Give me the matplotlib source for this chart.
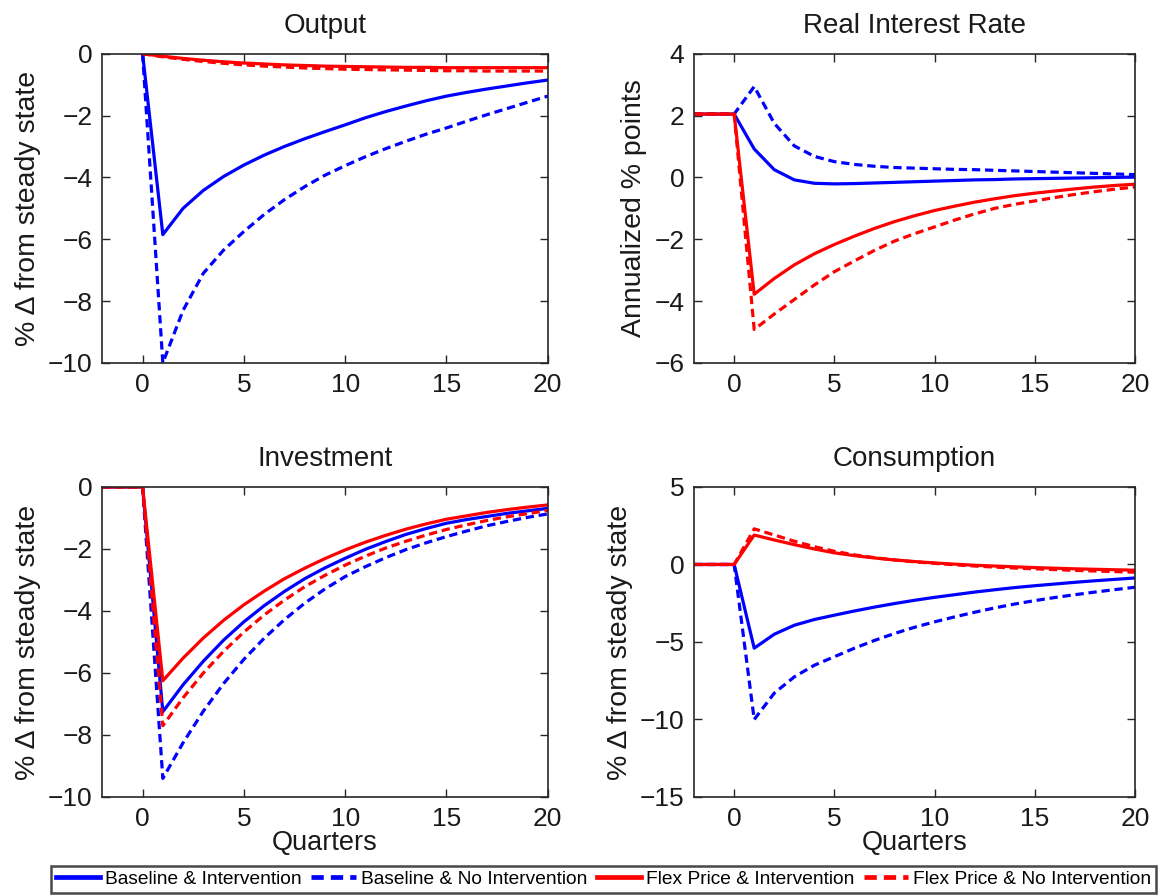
import matplotlib
matplotlib.use("Agg")
import matplotlib.pyplot as plt
from matplotlib.lines import Line2D

plt.rcParams["font.family"] = ["Liberation Sans", "DejaVu Sans"]

# Quarters since the shock
quarters = list(range(-2, 21))
quarters_out = list(range(0, 21))

# Output (% deviation from steady state), from quarter 0
out_base_int = [0, -5.85, -5.0, -4.42, -3.97, -3.6, -3.28, -3.0, -2.75, -2.52, -2.3,
                -2.07, -1.87, -1.69, -1.52, -1.37, -1.25, -1.14, -1.04, -0.94, -0.85]
out_base_noint = [0, -10.0, -8.3, -7.1, -6.35, -5.75, -5.2, -4.72, -4.3, -3.93, -3.62,
                  -3.33, -3.07, -2.83, -2.6, -2.4, -2.18, -1.97, -1.77, -1.57, -1.37]
out_flex_int = [0, -0.08, -0.15, -0.21, -0.26, -0.3, -0.33, -0.36, -0.38, -0.4, -0.41,
                -0.42, -0.43, -0.44, -0.44, -0.45, -0.45, -0.45, -0.45, -0.45, -0.45]
out_flex_noint = [0, -0.1, -0.18, -0.25, -0.31, -0.36, -0.4, -0.43, -0.46, -0.48, -0.5,
                  -0.51, -0.52, -0.53, -0.54, -0.55, -0.55, -0.56, -0.56, -0.56, -0.56]

# Real interest rate (annualized % points)
rir_base_int = [2.05, 2.05, 2.05, 0.92, 0.25, -0.08, -0.19, -0.21, -0.2, -0.18, -0.16, -0.14,
                -0.12, -0.1, -0.08, -0.07, -0.05, -0.04, -0.03, -0.02, -0.01, 0.0, 0.01]
rir_base_noint = [2.05, 2.05, 2.05, 2.94, 1.75, 1.02, 0.68, 0.51, 0.42, 0.36, 0.32, 0.3,
                  0.28, 0.26, 0.25, 0.23, 0.21, 0.19, 0.17, 0.15, 0.13, 0.11, 0.09]
rir_flex_int = [2.05, 2.05, 2.05, -3.78, -3.27, -2.83, -2.47, -2.17, -1.9, -1.65, -1.43, -1.24,
                -1.07, -0.93, -0.8, -0.69, -0.59, -0.51, -0.44, -0.37, -0.31, -0.26, -0.22]
rir_flex_noint = [2.05, 2.05, 2.05, -4.92, -4.42, -3.95, -3.48, -3.05, -2.7, -2.36, -2.06, -1.82,
                  -1.6, -1.38, -1.18, -1.0, -0.87, -0.76, -0.65, -0.55, -0.46, -0.38, -0.31]

# Investment (% deviation from steady state)
inv_base_int = [0, 0, 0, -7.25, -6.38, -5.62, -4.94, -4.35, -3.83, -3.37, -2.96, -2.61,
                -2.3, -2.01, -1.76, -1.53, -1.34, -1.17, -1.05, -0.95, -0.85, -0.77, -0.69]
inv_base_noint = [0, 0, 0, -9.4, -8.25, -7.23, -6.34, -5.56, -4.88, -4.28, -3.75, -3.29,
                  -2.89, -2.57, -2.28, -2.02, -1.8, -1.6, -1.42, -1.25, -1.11, -0.98, -0.87]
inv_flex_int = [0, 0, 0, -6.25, -5.52, -4.87, -4.3, -3.8, -3.36, -2.96, -2.62, -2.31,
                -2.03, -1.78, -1.56, -1.36, -1.19, -1.04, -0.93, -0.82, -0.73, -0.65, -0.58]
inv_flex_noint = [0, 0, 0, -7.7, -6.8, -6.0, -5.3, -4.68, -4.13, -3.65, -3.22, -2.85,
                  -2.52, -2.23, -1.97, -1.75, -1.55, -1.37, -1.22, -1.08, -0.96, -0.86, -0.76]

# Consumption (% deviation from steady state)
con_base_int = [0, 0, 0, -5.4, -4.5, -3.92, -3.55, -3.27, -3.0, -2.75, -2.52, -2.31,
                -2.12, -1.95, -1.78, -1.63, -1.49, -1.37, -1.26, -1.15, -1.05, -0.96, -0.87]
con_base_noint = [0, 0, 0, -10.0, -8.3, -7.25, -6.5, -5.95, -5.4, -4.9, -4.45, -4.05,
                  -3.7, -3.38, -3.08, -2.8, -2.55, -2.33, -2.13, -1.95, -1.78, -1.62, -1.47]
con_flex_int = [0, 0, 0, 1.9, 1.58, 1.28, 1.0, 0.75, 0.57, 0.42, 0.29, 0.19,
                0.1, 0.02, -0.05, -0.1, -0.15, -0.2, -0.24, -0.28, -0.31, -0.34, -0.37]
con_flex_noint = [0, 0, 0, 2.3, 1.9, 1.5, 1.15, 0.85, 0.62, 0.44, 0.29, 0.17,
                  0.07, -0.02, -0.1, -0.17, -0.23, -0.28, -0.33, -0.38, -0.42, -0.46, -0.5]

series_labels = ["Baseline & Intervention", "Baseline & No Intervention",
                 "Flex Price & Intervention", "Flex Price & No Intervention"]
x_ticks = [0, 5, 10, 15, 20]

BLUE = "#0000ff"
RED = "#ff0000"
LW = 2.3
DASH = (0, (2.6, 1.5))
styles = [(BLUE, "-"), (BLUE, DASH), (RED, "-"), (RED, DASH)]
TEXT = "#1a1a1a"

panels = [
    dict(title="Output", x=quarters_out,
         ys=[out_base_int, out_base_noint, out_flex_int, out_flex_noint],
         ylim=(-10, 0), yticks=[-10, -8, -6, -4, -2, 0],
         ylabel="% \u0394 from steady state", xlabel=None,
         rect=[0.087, 0.595, 0.380, 0.345]),
    dict(title="Real Interest Rate", x=quarters,
         ys=[rir_base_int, rir_base_noint, rir_flex_int, rir_flex_noint],
         ylim=(-6, 4), yticks=[-6, -4, -2, 0, 2, 4],
         ylabel="Annualized % points", xlabel=None,
         rect=[0.5917, 0.595, 0.376, 0.345]),
    dict(title="Investment", x=quarters,
         ys=[inv_base_int, inv_base_noint, inv_flex_int, inv_flex_noint],
         ylim=(-10, 0), yticks=[-10, -8, -6, -4, -2, 0],
         ylabel="% \u0394 from steady state", xlabel="Quarters",
         rect=[0.087, 0.1105, 0.380, 0.346]),
    dict(title="Consumption", x=quarters,
         ys=[con_base_int, con_base_noint, con_flex_int, con_flex_noint],
         ylim=(-15, 5), yticks=[-15, -10, -5, 0, 5],
         ylabel="% \u0394 from steady state", xlabel="Quarters",
         rect=[0.5917, 0.1105, 0.376, 0.346]),
]

fig = plt.figure(figsize=(11.73, 8.96), dpi=100)

for p in panels:
    ax = fig.add_axes(p["rect"])
    for (color, ls), y in zip(styles, p["ys"]):
        ax.plot(p["x"], y, color=color, linestyle=ls, linewidth=LW)
    ax.set_xlim(-2, 20)
    ax.set_ylim(*p["ylim"])
    ax.set_xticks(x_ticks)
    ax.set_yticks(p["yticks"])
    ax.tick_params(direction="in", length=6, width=1, labelsize=19,
                   top=True, right=True, colors="#262626", labelcolor=TEXT, pad=7)
    for s in ax.spines.values():
        s.set_linewidth(1.2)
        s.set_color("#262626")
    ax.set_title(p["title"], fontsize=20, pad=15, color=TEXT)
    ax.set_ylabel(p["ylabel"], fontsize=20.5, color=TEXT, labelpad=5)
    if p["xlabel"]:
        ax.set_xlabel(p["xlabel"], fontsize=19.5, color=TEXT, labelpad=-0.5)

handles = [Line2D([], [], color=c, linestyle=ls, linewidth=3.4) for c, ls in styles]
leg = fig.legend(handles, series_labels, loc="lower left", ncol=4,
                 bbox_to_anchor=(0.0435, 0.003), fontsize=13.8,
                 frameon=True, fancybox=False, handlelength=2.3, handletextpad=0.26,
                 columnspacing=0.5, borderpad=0.27, borderaxespad=0.0)
leg.get_frame().set_edgecolor(TEXT)
leg.get_frame().set_linewidth(1.8)

fig.savefig("out.png", dpi=100, facecolor="white")
